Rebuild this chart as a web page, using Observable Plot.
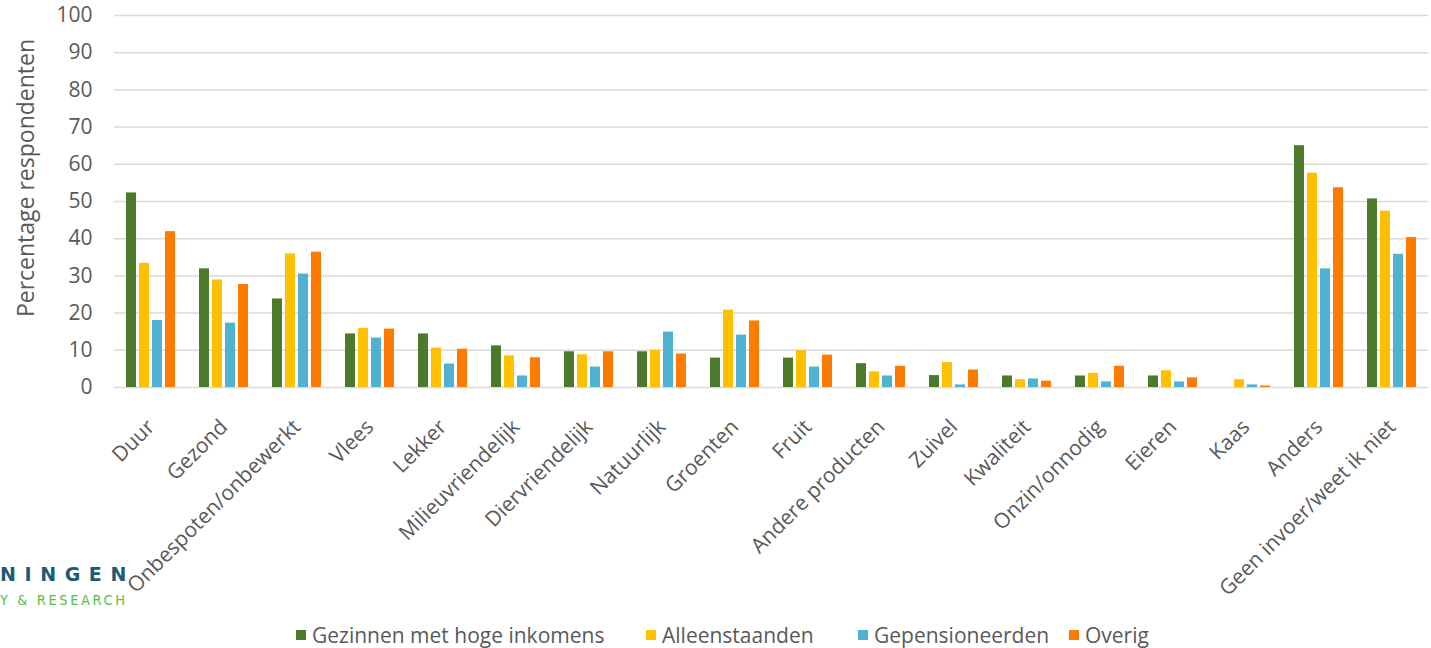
<!DOCTYPE html>
<html>
<head>
<meta charset="utf-8">
<script src="https://cdn.jsdelivr.net/npm/d3@7"></script>
<script src="https://cdn.jsdelivr.net/npm/@observablehq/plot@0.6"></script>
<style>
  html, body { margin: 0; padding: 0; background: #fff; }
  #wrap { position: relative; width: 1431px; height: 648px; overflow: hidden; font-family: "Open Sans", sans-serif; color: #595959; }
  #ytitle { position: absolute; left: 25px; top: 178px; transform: translate(-50%, -50%) rotate(-90deg); white-space: nowrap; font-size: 23px; }
  #legend { position: relative; height: 33px; font-size: 21px; white-space: nowrap; }
  .item { position: absolute; top: 6px; display: flex; align-items: center; }
  .sw { width: 10px; height: 10px; margin-right: 6px; }
  .logo1 { position: absolute; top: 563px; left: 0px; font-family: "DejaVu Sans", sans-serif; font-weight: bold; font-size: 19px; letter-spacing: 8.6px; color: #1d5a73; white-space: nowrap; }
  .logo2 { position: absolute; top: 592px; left: 0px; font-family: "DejaVu Sans", sans-serif; font-stretch: condensed; font-size: 14.5px; letter-spacing: 2.6px; color: #56c043; white-space: nowrap; }
</style>
</head>
<body>
<div id="wrap">
  <div id="chart"></div>
  <div id="legend"></div>
  <div id="ytitle">Percentage respondenten</div>
  <div class="logo1">NINGEN</div>
  <div class="logo2">Y &amp; RESEARCH</div>
</div>
<script>
const categories = ["Duur","Gezond","Onbespoten/onbewerkt","Vlees","Lekker","Milieuvriendelijk","Diervriendelijk","Natuurlijk","Groenten","Fruit","Andere producten","Zuivel","Kwaliteit","Onzin/onnodig","Eieren","Kaas","Anders","Geen invoer/weet ik niet"];
const series = ["Gezinnen met hoge inkomens","Alleenstaanden","Gepensioneerden","Overig"];
const colors = ["#4c7a2a","#ffc000","#4eb2d0","#ff7b00"];
const gezinnen        = [52.3,31.9,23.8,14.4,14.4,11.2,9.6,9.6,7.9,7.9,6.4,3.2,3.1,3.1,3.1,0,65.0,50.7];
const alleenstaanden  = [33.4,28.9,35.9,15.9,10.6,8.5,8.8,10.0,20.8,9.9,4.2,6.7,2.1,3.8,4.5,2.1,57.6,47.4];
const gepensioneerden = [18.0,17.3,30.5,13.3,6.3,3.1,5.5,14.9,14.1,5.5,3.1,0.7,2.3,1.5,1.5,0.7,31.9,35.8];
const overig          = [41.9,27.7,36.4,15.7,10.3,8.0,9.6,9.0,17.9,8.7,5.7,4.7,1.7,5.7,2.6,0.4,53.7,40.3];
const yTicks = [0,10,20,30,40,50,60,70,80,90,100];

const valuesBySeries = [gezinnen, alleenstaanden, gepensioneerden, overig];
const data = [];
categories.forEach((c, i) => {
  series.forEach((s, j) => data.push({category: c, series: s, value: valuesBySeries[j][i]}));
});

const chart = Plot.plot({
  width: 1431,
  height: 615,
  marginTop: 15,
  marginBottom: 228,
  marginLeft: 110,
  marginRight: 0,
  style: {fontFamily: "Open Sans, sans-serif", fontSize: "21px", color: "#595959", background: "#fff"},
  fx: {domain: categories, padding: 0, label: null, tickRotate: -45, tickSize: 0, tickPadding: 36},
  x: {domain: series, axis: null, paddingInner: 0.2, paddingOuter: 0.86},
  y: {domain: [0, 100], ticks: 10, tickSize: 0, tickPadding: 22, label: null},
  color: {domain: series, range: colors},
  marks: [
    Plot.ruleY(yTicks, {stroke: "#d9d9d9", strokeWidth: 1.5}),
    Plot.barY(data, {fx: "category", x: "series", y: "value", fill: "series"})
  ]
});
document.getElementById("chart").appendChild(chart);

const legend = document.getElementById("legend");
const lefts = [296, 646, 858, 1069];
series.forEach((s, j) => {
  const it = document.createElement("div");
  it.className = "item";
  it.style.left = lefts[j] + "px";
  const sw = document.createElement("div");
  sw.className = "sw";
  sw.style.background = colors[j];
  const t = document.createElement("span");
  t.textContent = s;
  it.appendChild(sw);
  it.appendChild(t);
  legend.appendChild(it);
});
</script>
</body>
</html>
